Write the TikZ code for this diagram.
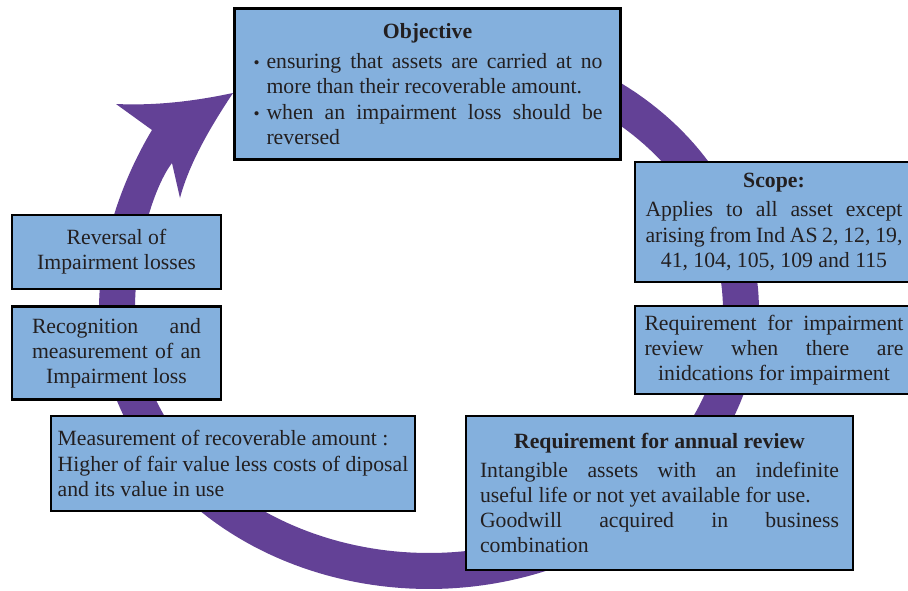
\documentclass[tikz,border=0pt]{standalone}
\usepackage{fontspec}
\setmainfont{Liberation Serif}
\definecolor{ringpurple}{RGB}{99,65,150}
\definecolor{boxblue}{RGB}{132,176,221}
\definecolor{txtgray}{RGB}{35,31,32}
\newcommand\bul{\hspace*{0.8pt}{\fontsize{13}{13}\selectfont\textbullet}}
\begin{document}
\begin{tikzpicture}[x=0.75pt,y=-0.75pt,
  box/.style={draw=black, line width=2.2pt, fill=boxblue, text=txtgray,
    inner sep=0pt, align=center, font=\fontsize{16.3}{18.9}\selectfont}]
\useasboundingbox (0,0) rectangle (908,590);
\fill[white] (0,0) rectangle (908,590);
\clip (0,0) rectangle (908,590);
% circular arrow
\fill[ringpurple] plot[domain=75:-180,samples=160] ({429+330*cos(\x)},{310-279*sin(\x)})
  .. controls (99,240) and (125,175) .. (152,130)
  -- (116,104) .. controls (160,106) and (200,100) .. (233,93)
  .. controls (215,120) and (190,160) .. (180,198)
  -- (172,163) .. controls (155,185) and (135,245) .. (135,310)
  -- plot[domain=-180:75,samples=160] ({429+294*cos(\x)},{310-243*sin(\x)}) -- cycle;
% boxes
\node[box, minimum width=289.5pt, minimum height=113.25pt] (objective) at (427.5,84) {%
  \makebox[262.5pt][c]{\textbf{Objective}}\\[3.75pt]
  \makebox[10.5pt][l]{\bul}\makebox[252pt][s]{ensuring that assets are carried at no}\\
  \makebox[10.5pt][l]{}\makebox[252pt][l]{more than their recoverable amount.}\\
  \makebox[10.5pt][l]{\bul}\makebox[252pt][s]{when an impairment loss should be}\\
  \makebox[10.5pt][l]{}\makebox[252pt][l]{reversed}};
\node[box, minimum width=208.5pt, minimum height=90pt] (scope) at (774,222) {%
  \textbf{Scope:}\\[3pt]
  \makebox[192.75pt][s]{Applies to all asset except}\\
  \makebox[192.75pt][s]{arising from Ind AS 2, 12, 19,}\\
  41, 104, 105, 109 and 115};
\node[box, minimum width=208.5pt, minimum height=66pt] (impreview) at (774,350) {%
  \makebox[194.25pt][s]{Requirement for impairment}\\
  \makebox[194.25pt][s]{review when there are}\\
  inidcations for impairment};
\node[box, minimum width=290.25pt, minimum height=115.5pt] (annual) at (659.5,493) {%
  \textbf{Requirement for annual review}\\[3pt]
  \makebox[269.25pt][s]{Intangible assets with an indefinite}\\
  \makebox[269.25pt][l]{useful life or not yet available for use.}\\
  \makebox[269.25pt][s]{Goodwill acquired in business}\\
  \makebox[269.25pt][l]{combination}};
\node[box, align=left, minimum width=273pt, minimum height=71.25pt] (measure) at (233,463.5) {%
  Measurement of recoverable amount :\\
  Higher of fair value less costs of diposal\\
  and its value in use};
\node[box, minimum width=156.75pt, minimum height=69.75pt] (recog) at (116.5,353) {%
  \makebox[126.75pt][s]{Recognition and}\\
  \makebox[126.75pt][s]{measurement of an}\\
  Impairment loss};
\node[box, minimum width=156.75pt, minimum height=55.5pt] (reversal) at (116.5,252) {%
  Reversal of\\Impairment losses};
\end{tikzpicture}
\end{document}
